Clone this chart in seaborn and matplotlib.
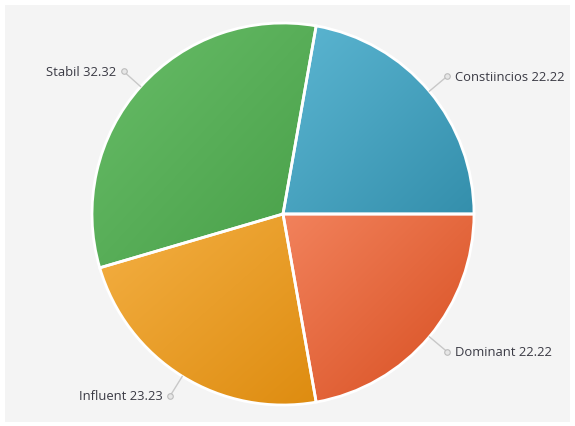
import matplotlib
matplotlib.use('Agg')
import numpy as np
import seaborn as sns
import matplotlib.pyplot as plt
from matplotlib.colors import LinearSegmentedColormap
from matplotlib.patches import Rectangle

sns.set_theme(style="white")
plt.rcParams['font.family'] = ['Open Sans', 'DejaVu Sans']

# data
labels = ["Constiincios", "Stabil", "Influent", "Dominant"]
values = [22.22, 32.32, 23.23, 22.22]
# light / dark ends of each slice gradient
light = ["#5cb6d2", "#68bd68", "#f4b044", "#f2825c"]
dark = ["#348fac", "#489f48", "#de8c10", "#d74e20"]

W, H = 575, 427
cx, cy, R = 283, 215, 191

f = plt.figure(figsize=(W / 100, H / 100), dpi=100)
f.patch.set_facecolor("white")
ax = f.add_axes([0, 0, 1, 1])
ax.axis("off")

# grey panel
ax.add_patch(Rectangle(((5 - cx) / R, (cy - 423) / R), 565 / R, 417 / R,
                       facecolor="#f4f4f4", edgecolor="none", zorder=0))

wedges, _ = ax.pie(values, startangle=0, counterclock=True, radius=1,
                   wedgeprops=dict(edgecolor="white", linewidth=2),
                   colors=light)
ax.set_aspect("auto")

# gradient fill clipped to each wedge (light top-left, dark bottom-right)
for w, c0, c1 in zip(wedges, light, dark):
    bb = w.get_path().get_extents(w.get_patch_transform())
    gx, gy = np.meshgrid(np.linspace(0, 1, 200), np.linspace(0, 1, 200))
    grad = (gx + gy) / 2
    cmap = LinearSegmentedColormap.from_list("g", [c0, c1])
    im = ax.imshow(grad, cmap=cmap, extent=(bb.x0, bb.x1, bb.y0, bb.y1),
                   interpolation="bilinear", zorder=1.5, origin="upper")
    im.set_clip_path(w)
    w.set_facecolor("none")
    w.set_zorder(2)

ax.set_xlim(-cx / R, (W - cx) / R)
ax.set_ylim((cy - H) / R, cy / R)
ax.set_aspect("auto")

# labels with radial leaders
total = sum(values)
start = 0.0
for lab, v in zip(labels, values):
    mid = np.deg2rad(start + v / total * 360 / 2)
    start += v / total * 360
    ca, sa = np.cos(mid), np.sin(mid)
    r1, r2 = 1.0, 1.12
    ax.plot([r1 * ca, r2 * ca], [r1 * sa, r2 * sa], color="#c8c8c8", lw=1, zorder=3)
    ax.plot(r2 * ca, r2 * sa, "o", ms=4, mfc="#e6e6e6", mec="#bcbcbc", mew=0.8, zorder=3)
    ha = "left" if ca > 0 else "right"
    off = 0.04 if ca > 0 else -0.04
    ax.text(r2 * ca + off, r2 * sa, f"{lab} {v:.2f}", ha=ha, va="center",
            fontsize=9.4, color="#3a3a44", zorder=4)

plt.savefig("out.png", dpi=100)
